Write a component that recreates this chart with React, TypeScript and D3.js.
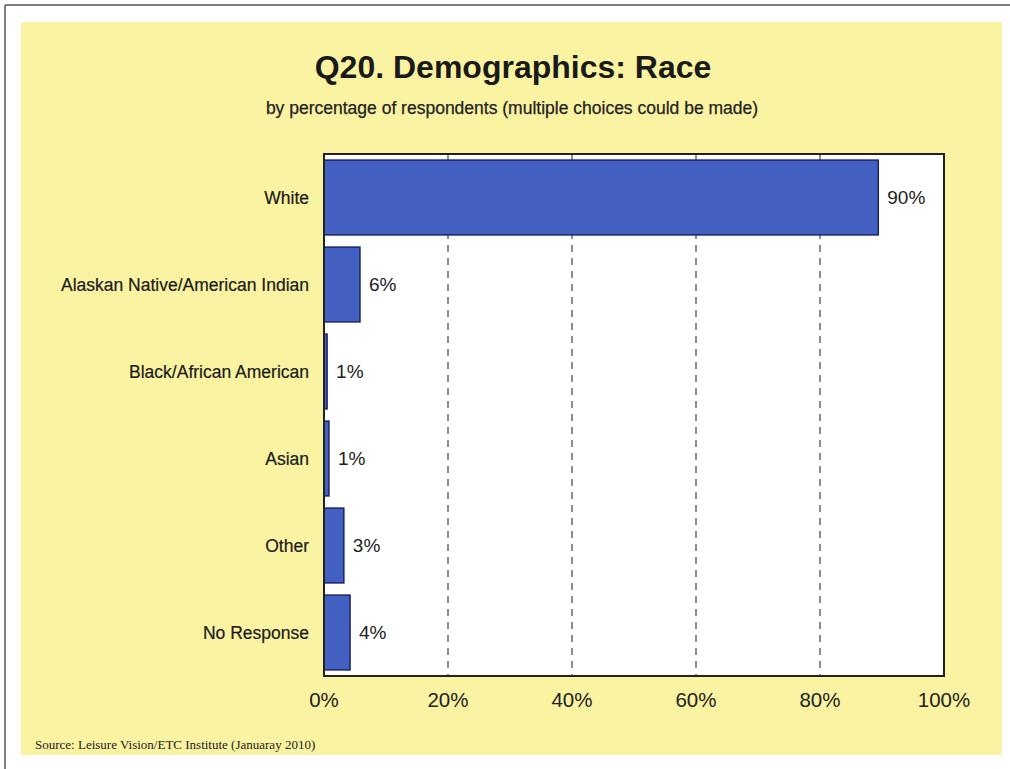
import React from "react";
import * as d3 from "d3";

const categories = ["White", "Alaskan Native/American Indian", "Black/African American", "Asian", "Other", "No Response"];
const values = [89.4, 5.8, 0.5, 0.8, 3.2, 4.2];
const valueLabels = ["90%", "6%", "1%", "1%", "3%", "4%"];
const ticks = [0, 20, 40, 60, 80, 100];

export default function App() {
  const W = 1010, H = 769;
  const plot = { left: 324, right: 944, top: 154, bottom: 676 };
  const x = d3.scaleLinear().domain([0, 100]).range([plot.left, plot.right]);
  const y = d3.scaleBand().domain(categories).range([plot.top, plot.bottom]).paddingInner(0.14).paddingOuter(0.07);
  const font = "Arial, 'Liberation Sans', sans-serif";
  return (
    <svg width={W} height={H} style={{ position: "absolute", left: 0, top: 0, background: "#fff" }}>
      <line x1={5} y1={5} x2={W} y2={5} stroke="#555" strokeWidth={1.5} />
      <line x1={5} y1={5} x2={5} y2={H} stroke="#555" strokeWidth={1.5} />
      <rect x={21} y={22} width={981} height={733} fill="#faf3a2" />
      <text x={513} y={78} textAnchor="middle" fontFamily={font} fontWeight="bold" fontSize={32} fill="#1a1a1a">Q20. Demographics: Race</text>
      <text x={512} y={114} textAnchor="middle" fontFamily={font} fontSize={17.5} fill="#222" stroke="#222" strokeWidth={0.25}>by percentage of respondents (multiple choices could be made)</text>
      <rect x={plot.left} y={plot.top} width={plot.right - plot.left} height={plot.bottom - plot.top} fill="#fff" />
      {ticks.filter(t => t > 0 && t < 100).map(t => (
        <line key={t} x1={x(t)} x2={x(t)} y1={plot.top} y2={plot.bottom} stroke="#444" strokeWidth={1.2} strokeDasharray="7,6" />
      ))}
      {categories.map((c, i) => (
        <g key={c}>
          <rect x={x(0)} y={y(c)!} width={x(values[i]) - x(0)} height={y.bandwidth()} fill="#4361c2" stroke="#1c2466" strokeWidth={1.5} />
          <text x={x(values[i]) + 9} y={y(c)! + y.bandwidth() / 2} dy="0.35em" fontFamily={font} fontSize={19} fill="#222">{valueLabels[i]}</text>
          <text x={309} y={y(c)! + y.bandwidth() / 2} dy="0.35em" textAnchor="end" fontFamily={font} fontSize={17.5} fill="#1a1a1a" stroke="#1a1a1a" strokeWidth={0.2}>{c}</text>
        </g>
      ))}
      <rect x={plot.left} y={plot.top} width={plot.right - plot.left} height={plot.bottom - plot.top} fill="none" stroke="#222" strokeWidth={2} />
      {ticks.map(t => (
        <text key={t} x={x(t)} y={707} textAnchor="middle" fontFamily={font} fontSize={20.5} fill="#222">{t}%</text>
      ))}
      <text x={35} y={749} fontFamily="'Liberation Serif', 'Times New Roman', serif" fontSize={13} fill="#222">Source:  Leisure Vision/ETC Institute (Januaray 2010)</text>
    </svg>
  );
}
